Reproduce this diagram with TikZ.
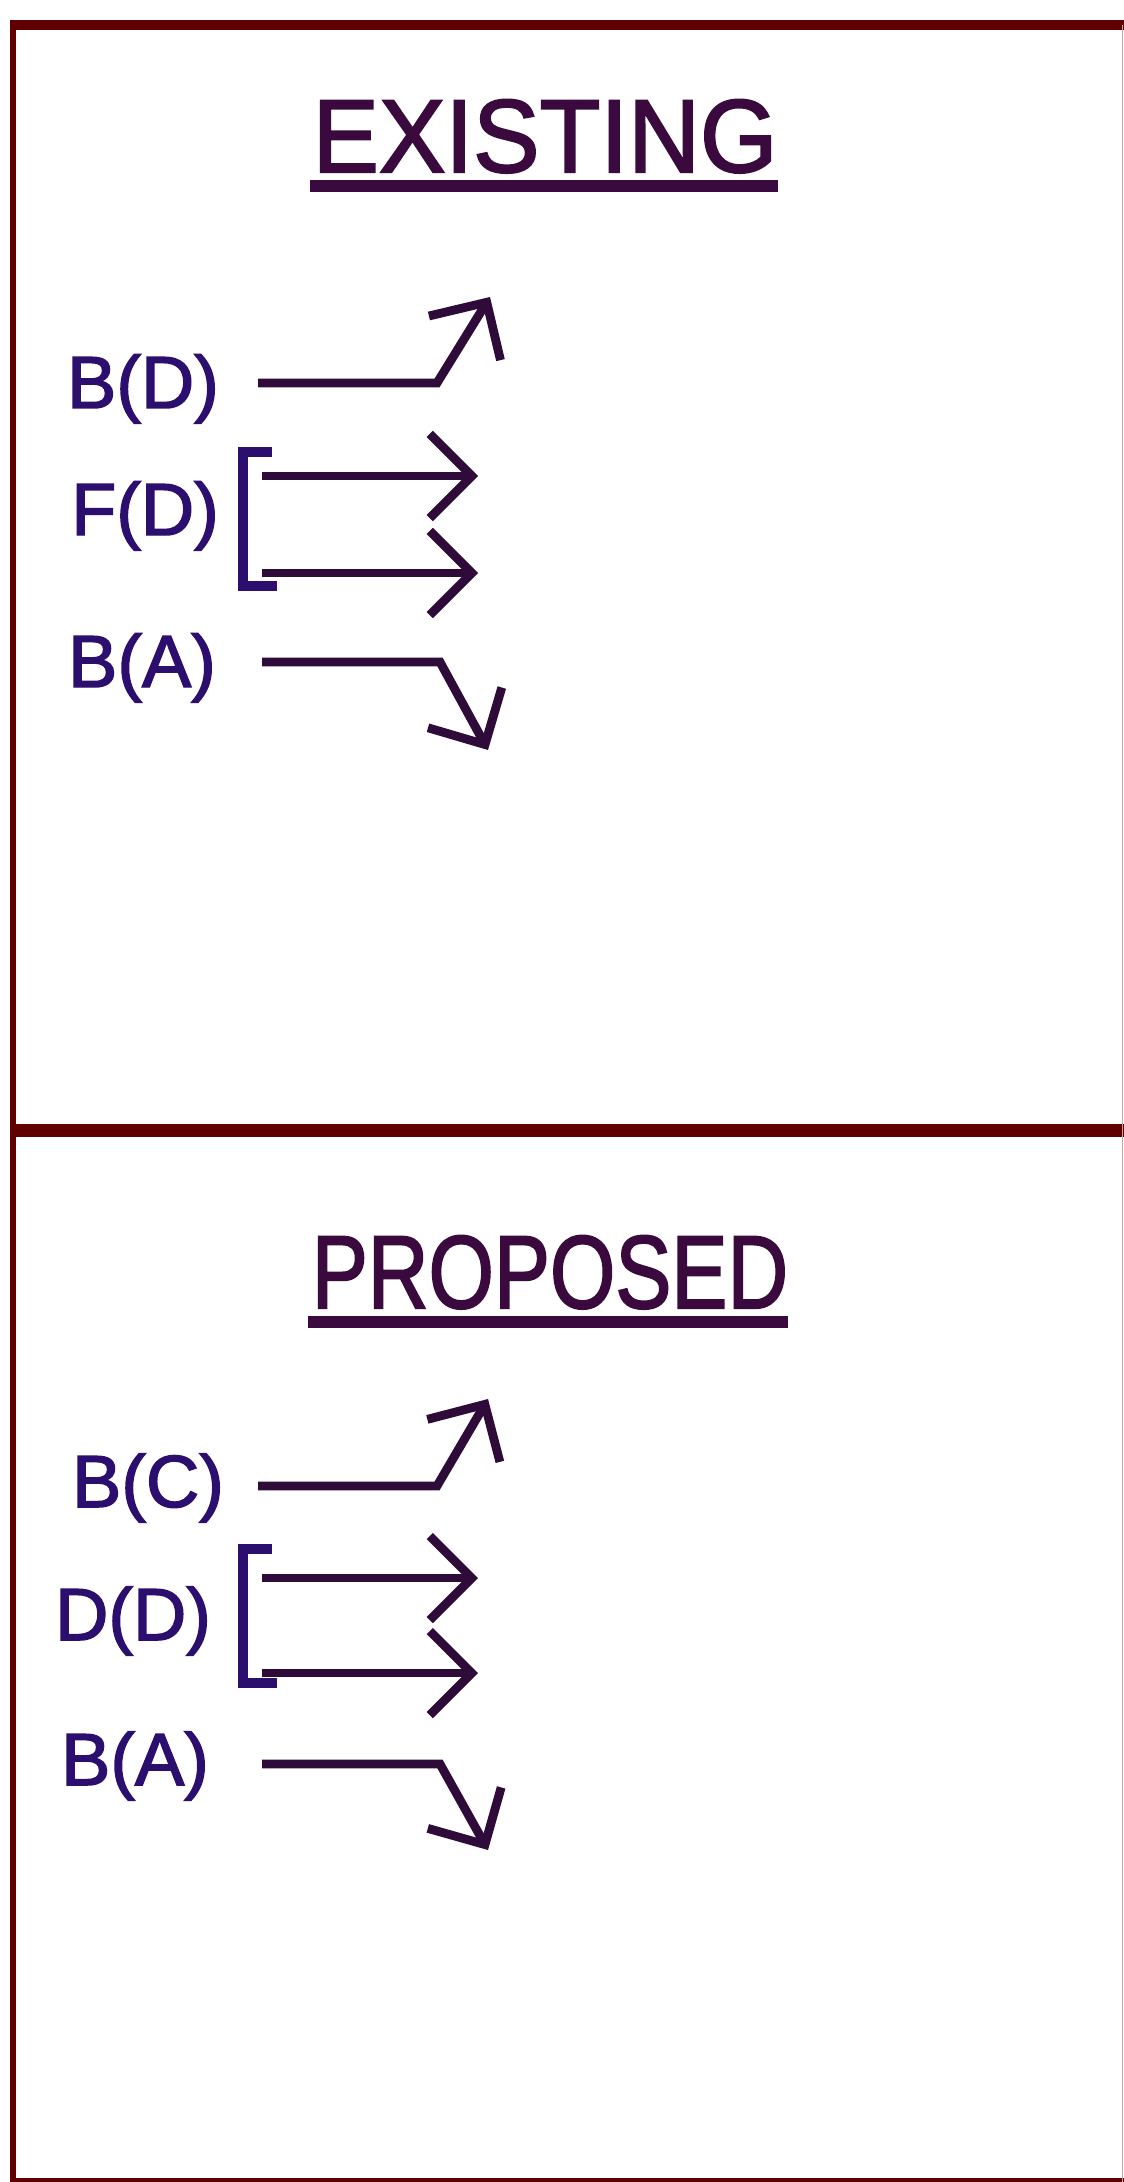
\documentclass[tikz,border=0pt]{standalone}
\usepackage{fontspec}
\setmainfont{Liberation Sans}
\newfontfamily\medfont[FakeBold=2]{Liberation Sans}
\usepackage{graphicx}
\usetikzlibrary{arrows.meta}
\definecolor{frameRed}{HTML}{600000}
\definecolor{labelBlue}{HTML}{2C0E6E}
\definecolor{arrowPurple}{HTML}{2E0B38}
\definecolor{titlePurple}{HTML}{3A0A3E}
\tikzstyle{frameLine}=[draw=frameRed]
\tikzstyle{laneLabel}=[inner sep=0pt, anchor=base, text=labelBlue, font=\medfont\fontsize{21}{25}\selectfont]
\tikzstyle{titleText}=[inner sep=0pt, anchor=base, text=titlePurple, font=\medfont\fontsize{29.5}{34}\selectfont]
\tikzstyle{titleRule}=[draw=titlePurple, line width=0.12cm]
\tikzstyle{laneArrow}=[-{Straight Barb[length=0.42cm,width=0.84cm]}, draw=arrowPurple, line width=2.5pt]
\tikzstyle{laneBracket}=[draw=labelBlue, line width=0.1cm, miter limit=4]

\begin{document}
\begin{tikzpicture}[x=0.01cm, y=-0.01cm]
	\useasboundingbox (0,0) rectangle (1123,2182);
	\fill[white] (0,0) rectangle (1123,2182);

	\draw[frameLine, line width=0.1cm] (10,25) -- (1130,25);
	\draw[frameLine, line width=0.06cm] (13,20) -- (13,2190);
	\draw[frameLine, line width=0.13cm] (10,1130) -- (1130,1130);
	\draw[frameLine, line width=0.09cm] (10,2182) -- (1130,2182);
	\draw[draw=frameRed!35, line width=0.01cm] (1122,25) -- (1122,2182);

	% existing
	\node[titleText] (existing) at (545,172) {\scalebox{0.96}[1]{EXISTING}};
	\draw[titleRule] (310,186) -- (778,186);

	\node[laneLabel] (bd) at (143,408) {B(D)};
	\node[laneLabel] (fd) at (145,535) {F(D)};
	\node[laneLabel] (ba1) at (142,687) {B(A)};

	\coordinate (bdS) at (258,383);
	\coordinate (bdK) at (437,383);
	\coordinate (bdT) at (490,297);
	\coordinate (fdS1) at (262,476);
	\coordinate (fdT1) at (478,476);
	\coordinate (fdS2) at (262,573);
	\coordinate (fdT2) at (478,573);
	\coordinate (ba1S) at (262,662);
	\coordinate (ba1K) at (440,662);
	\coordinate (ba1T) at (488,750);

	\draw[laneArrow] (bdS) -- (bdK) -- (bdT);
	\draw[laneArrow] (fdS1) -- (fdT1);
	\draw[laneArrow] (fdS2) -- (fdT2);
	\draw[laneArrow] (ba1S) -- (ba1K) -- (ba1T);
	\draw[laneBracket] (272,452) -- (243,452) -- (243,586) -- (277,586);

	% proposed
	\node[titleText] (proposed) at (550,1308) {\scalebox{0.81}[1]{PROPOSED}};
	\draw[titleRule] (308,1322) -- (788,1322);

	\node[laneLabel] (bc) at (148,1507) {B(C)};
	\node[laneLabel] (dd) at (133,1640) {D(D)};
	\node[laneLabel] (ba2) at (135,1785) {B(A)};

	\coordinate (bcS) at (258,1486);
	\coordinate (bcK) at (437,1486);
	\coordinate (bcT) at (488,1399);
	\coordinate (ddS1) at (262,1578);
	\coordinate (ddT1) at (478,1578);
	\coordinate (ddS2) at (262,1673);
	\coordinate (ddT2) at (478,1673);
	\coordinate (ba2S) at (262,1764);
	\coordinate (ba2K) at (440,1764);
	\coordinate (ba2T) at (488,1850);

	\draw[laneArrow] (bcS) -- (bcK) -- (bcT);
	\draw[laneArrow] (ddS1) -- (ddT1);
	\draw[laneArrow] (ddS2) -- (ddT2);
	\draw[laneArrow] (ba2S) -- (ba2K) -- (ba2T);
	\draw[laneBracket] (272,1549) -- (243,1549) -- (243,1683) -- (277,1683);
\end{tikzpicture}
\end{document}
